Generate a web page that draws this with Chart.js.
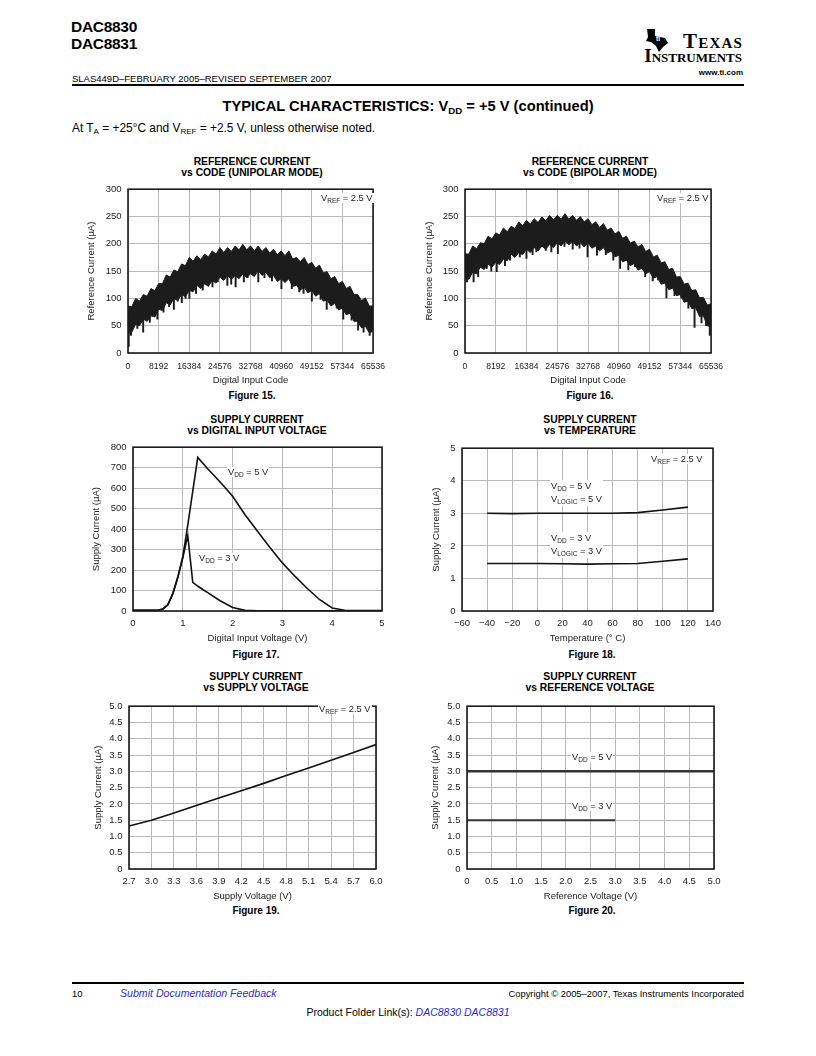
<!DOCTYPE html>
<html><head><meta charset="utf-8">
<script src="https://cdn.jsdelivr.net/npm/chart.js@4.4.0/dist/chart.umd.min.js"></script>
<style>
body{margin:0;width:816px;height:1056px;position:relative;background:#fff;font-family:"Liberation Sans",Arial,sans-serif;color:#000;overflow:hidden}
.a{position:absolute;white-space:nowrap}
canvas{position:absolute;z-index:1}
.ct{position:absolute;white-space:nowrap;text-align:center;font-weight:bold;font-size:10.3px;line-height:10.5px;transform:translateX(-50%)}
.fig{position:absolute;white-space:nowrap;font-weight:bold;font-size:10px;transform:translateX(-50%)}
.an{position:absolute;white-space:nowrap;font-size:9.3px;color:#222;z-index:2;background:#fff;padding:0 1px}
.sub{font-size:6.5px;position:relative;top:2px}
.blue{color:#2b2bd0;font-style:italic}
.ti{position:absolute;white-space:nowrap;font-family:'Liberation Serif',serif;font-weight:bold;font-size:19px;font-variant:small-caps;line-height:20px}
</style></head><body>

<div class="a" style="left:71px;top:18px;font-weight:bold;font-size:15.5px;line-height:17px;letter-spacing:-0.3px">DAC8830<br>DAC8831</div>
<svg class="a" style="left:644px;top:28px" width="26" height="25" viewBox="0 0 26 25"><path d="M3,1 L11,1 L11,8 L21,10 L24,15 L19,19 L15,24 L12,18 L7,14 L2,13 L4,9 Z" fill="#000"/><text x="12" y="13" font-size="7" font-weight="bold" fill="#fff" font-family="Liberation Sans">ti</text></svg>
<div class="ti" style="right:73px;top:31px;font-size:21px;letter-spacing:1.2px">Texas</div>
<div class="ti" style="right:74px;top:46px">Instruments</div>
<div class="a" style="right:73px;top:68px;font-size:8px;font-weight:bold">www.ti.com</div>
<div class="a" style="left:72px;top:73px;font-size:9.5px">SLAS449D–FEBRUARY 2005–REVISED SEPTEMBER 2007</div>
<div class="a" style="left:72px;top:84px;width:672px;height:2px;background:#000"></div>
<div class="a" style="left:408px;top:98px;transform:translateX(-50%);font-weight:bold;font-size:14.7px">TYPICAL CHARACTERISTICS: V<span style="font-size:9.7px;position:relative;top:3px">DD</span> = +5 V (continued)</div>
<div class="a" style="left:72px;top:121px;font-size:11.9px">At T<span style="font-size:8px;position:relative;top:2px">A</span> = +25°C and V<span style="font-size:8px;position:relative;top:2px">REF</span> = +2.5 V, unless otherwise noted.</div>

<div class="ct" style="left:252px;top:157px">REFERENCE CURRENT<br>vs CODE (UNIPOLAR MODE)</div>
<div class="ct" style="left:590px;top:157px">REFERENCE CURRENT<br>vs CODE (BIPOLAR MODE)</div>
<div class="ct" style="left:257px;top:415px">SUPPLY CURRENT<br>vs DIGITAL INPUT VOLTAGE</div>
<div class="ct" style="left:590px;top:415px">SUPPLY CURRENT<br>vs TEMPERATURE</div>
<div class="ct" style="left:256px;top:672px">SUPPLY CURRENT<br>vs SUPPLY VOLTAGE</div>
<div class="ct" style="left:590px;top:672px">SUPPLY CURRENT<br>vs REFERENCE VOLTAGE</div>

<div class="fig" style="left:252px;top:390px">Figure 15.</div>
<div class="fig" style="left:590px;top:390px">Figure 16.</div>
<div class="fig" style="left:256px;top:649px">Figure 17.</div>
<div class="fig" style="left:592px;top:649px">Figure 18.</div>
<div class="fig" style="left:256px;top:905px">Figure 19.</div>
<div class="fig" style="left:592px;top:905px">Figure 20.</div>

<div class="an" style="left:320px;top:193px">V<span class="sub">REF</span> = 2.5 V</div>
<div class="an" style="left:656px;top:193px">V<span class="sub">REF</span> = 2.5 V</div>
<div class="an" style="left:227px;top:467px">V<span class="sub">DD</span> = 5 V</div>
<div class="an" style="left:198px;top:553px">V<span class="sub">DD</span> = 3 V</div>
<div class="an" style="left:650px;top:454px">V<span class="sub">REF</span> = 2.5 V</div>
<div class="an" style="left:550px;top:480px;line-height:12px">V<span class="sub">DD</span> = 5 V<br>V<span class="sub">LOGIC</span> = 5 V</div>
<div class="an" style="left:550px;top:532px;line-height:12px">V<span class="sub">DD</span> = 3 V<br>V<span class="sub">LOGIC</span> = 3 V</div>
<div class="an" style="left:318px;top:704px">V<span class="sub">REF</span> = 2.5 V</div>
<div class="an" style="left:571px;top:752px">V<span class="sub">DD</span> = 5 V</div>
<div class="an" style="left:571px;top:801px">V<span class="sub">DD</span> = 3 V</div>

<div class="a" style="left:72px;top:982px;width:672px;height:2px;background:#000"></div>
<div class="a" style="left:72px;top:988px;font-size:9.5px">10</div>
<div class="a blue" style="left:120px;top:987px;font-size:10.6px">Submit Documentation Feedback</div>
<div class="a" style="right:72px;top:988px;font-size:9.4px">Copyright © 2005–2007, Texas Instruments Incorporated</div>
<div class="a" style="left:408px;top:1006px;transform:translateX(-50%);font-size:10.5px">Product Folder Link(s): <span class="blue">DAC8830 DAC8831</span></div>

<canvas id="c15"></canvas><canvas id="c16"></canvas><canvas id="c17"></canvas>
<canvas id="c18"></canvas><canvas id="c19"></canvas><canvas id="c20"></canvas>

<script>
// ---------- DATA ----------
const CODES = [0,1024,2048,3072,4096,5120,6144,7168,8192,9216,10240,11264,12288,13312,14336,15360,16384,17408,18432,19456,20480,21504,22528,23552,24576,25600,26624,27648,28672,29696,30720,31744,32768,33792,34816,35840,36864,37888,38912,39936,40960,41984,43008,44032,45056,46080,47104,48128,49152,50176,51200,52224,53248,54272,55296,56320,57344,58368,59392,60416,61440,62464,63488,64512,65536];
const CODE_TICKS = [0,8192,16384,24576,32768,40960,49152,57344,65536];

const F15_UPPER = [86,85,100,95,107,104,118,114,127,127,143,139,152,149,163,160,175,168,178,171,181,176,187,181,193,184,193,186,196,189,199,189,196,187,196,186,193,183,190,180,187,178,187,172,175,167,175,162,166,155,161,147,149,136,140,127,131,118,122,107,107,96,101,86,86];
const F15_LOWER = [35,38,53,50,62,58,68,66,80,78,92,88,100,96,107,103,115,112,124,118,127,122,133,128,139,133,142,135,142,136,145,138,145,140,151,142,148,138,142,131,136,129,136,122,124,115,121,110,115,104,109,95,97,86,91,79,82,70,73,58,58,46,49,37,40];
const F15_SPIKE_CODE = [200,794,4060,5830,7860,12270,14390,16420,18190,22600,26570,28780,30980,34845,41033,46956,49166,53144,57564,61542,64636,
                        2500,9500,11000,13300,15400,20000,24000,27600,32000,36500,38500,43800,45800,51500,55800,59800,63000];
const F15_SPIKE_LOW  = [12,32,38,56,62,80,92,100,109,121,124,121,130,130,118,109,95,80,62,42,32,
                        45,75,85,95,100,115,130,126,138,138,132,118,112,98,82,60,38];
const F15_SPIKE_TOP  = [35,45,62,68,80,100,107,115,124,133,142,142,145,151,136,121,115,97,82,58,45,
                        55,90,95,102,110,127,139,138,145,148,142,130,122,108,90,72,50];

const F16_UPPER = [182,181,196,191,202,200,214,209,220,216,229,222,232,228,240,233,243,236,246,239,249,242,252,244,252,245,255,245,252,243,250,240,246,235,240,230,237,225,229,218,223,210,214,201,205,194,199,186,190,176,179,165,167,153,155,139,140,126,128,114,116,101,102,88,90];
const F16_LOWER = [136,135,148,145,157,153,163,157,166,162,172,169,181,175,184,180,190,184,193,187,196,190,199,193,202,196,205,198,205,196,202,194,202,192,196,187,193,183,187,176,179,167,170,160,164,152,155,145,149,137,140,126,128,116,119,105,107,93,95,81,83,67,68,50,48];
const F16_SPIKE_CODE = [530,2290,5810,8450,10650,14610,16370,19010,24730,28690,32650,35150,41314,45280,51450,53650,57614,61140,64220,
                        3500,7000,12000,18000,21500,23000,26500,30500,37500,39500,43500,48000,50000,55800,59500,63000,65200];
const F16_SPIKE_LOW  = [130,130,155,149,160,176,173,185,182,190,176,179,155,158,134,101,101,47,50,
                        140,150,170,180,188,185,195,192,180,170,152,140,132,105,82,55,32];
const F16_SPIKE_TOP  = [140,150,162,167,174,185,190,194,202,205,202,196,178,164,140,126,107,85,62,
                        152,163,181,193,197,199,204,202,190,184,168,152,145,118,95,70,50];

const F17_V5_X = [0,0.5,0.6,0.7,0.8,0.9,1.0,1.1,1.2,1.3,1.5,1.75,2.0,2.25,2.5,2.75,3.0,3.25,3.5,3.75,4.0,4.25,4.5,5.0];
const F17_V5_Y = [3,4,10,30,85,165,265,420,585,750,695,630,560,470,390,310,235,170,110,55,15,4,2,2];
const F17_V3_X = [0,0.5,0.6,0.7,0.8,0.9,1.0,1.1,1.2,1.3,1.4,1.5,1.75,2.0,2.25,2.5,3.0,4.0,5.0];
const F17_V3_Y = [3,4,10,30,85,165,260,368,140,122,105,90,50,17,3,1,1,1,1];

const F18_T  = [-40,-20,0,20,40,60,80,100,120];
const F18_V5 = [3.0,2.99,3.0,3.0,3.0,3.0,3.02,3.1,3.19];
const F18_V3 = [1.46,1.46,1.46,1.45,1.44,1.45,1.46,1.53,1.6];

const F19_TICKS = [2.7,3.0,3.3,3.6,3.9,4.2,4.5,4.8,5.1,5.4,5.7,6.0];
const F19_V = [2.7,3.0,3.3,3.6,3.9,4.2,4.5,4.8,5.1,5.4,5.7,6.0];
const F19_I = [1.32,1.5,1.72,1.95,2.18,2.4,2.63,2.87,3.1,3.34,3.58,3.82];

const F20_V5_X = [0,5.0]; const F20_V5_Y = [3.0,3.0];
const F20_V3_X = [0,3.0]; const F20_V3_Y = [1.5,1.5];

// ---------- HELPERS ----------
Chart.defaults.font.family = "'Liberation Sans', Arial, sans-serif";
Chart.defaults.color = '#222';
const pts = (xs, ys) => xs.map((x,i)=>({x, y: ys[i]}));
const bars = (xs, lo, hi) => xs.map((x,i)=>({x, y:[lo[i], hi[i]]}));
const frame = {id:'frame', afterDraw(c){const a=c.chartArea,x=c.ctx;x.save();x.strokeStyle='#1a1a1a';x.lineWidth=1.6;x.strokeRect(a.left,a.top,a.right-a.left,a.bottom-a.top);x.restore();}};
const GRID = '#b9b9b9';

function make(id, rect, pad, datasets, xo, yo){
  const cv = document.getElementById(id);
  const w = rect.R-rect.L+pad.l+pad.r, h = rect.B-rect.T+pad.t+pad.b;
  cv.width = w; cv.height = h;
  cv.style.left = (rect.L-pad.l)+'px'; cv.style.top = (rect.T-pad.t)+'px';
  cv.style.width = w+'px'; cv.style.height = h+'px';
  const xs = Object.assign({type:'linear', offset:false,
      afterFit:s=>{s.height=pad.b;},
      grid:{color:GRID, drawTicks:false, offset:false}, border:{display:false},
      title:{display:true, text:xo.title, font:{size:9.5}, color:'#222', padding:0}}, xo.s);
  xs.ticks = Object.assign({padding:xo.pad||6.5, font:{size:xo.fs||9.5}, maxRotation:0, autoSkip:false, color:'#222'}, xo.ticks||{});
  const ys = Object.assign({type:'linear',
      afterFit:s=>{s.width=pad.l;},
      grid:{color:GRID, drawTicks:false}, border:{display:false},
      title:{display:true, text:yo.title, font:{size:9.5}, color:'#222', padding:0}}, yo.s);
  ys.ticks = Object.assign({padding:6.5, font:{size:9.5}, color:'#222'}, yo.ticks||{});
  new Chart(cv, {type:'line', data:{datasets}, plugins:[frame],
    options:{responsive:false, animation:false, devicePixelRatio:1,
      layout:{padding:{left:0,top:pad.t,right:pad.r,bottom:0}, autoPadding:false},
      plugins:{legend:{display:false}, tooltip:{enabled:false}},
      elements:{point:{radius:0}, line:{tension:0}},
      scales:{x:xs, y:ys}}});
}
const lineDs = (data, extra) => Object.assign({data, borderColor:'#111', borderWidth:1.6, pointRadius:0, fill:false}, extra||{});
const BAND = '#1c1c1c';
function bandSets(up, lo, sc, sl, st){
  return [
    lineDs(pts(CODES, up), {borderWidth:1, borderColor:BAND, fill:'+1', backgroundColor:BAND}),
    lineDs(pts(CODES, lo), {borderWidth:1, borderColor:BAND}),
    {type:'bar', data:bars(sc, sl, st), backgroundColor:BAND, barThickness:1.3, grouped:false}
  ];
}
const codeX = {title:'Digital Input Code', fs:8.6, pad:8,
  s:{min:0,max:65536, afterBuildTicks:s=>{s.ticks=CODE_TICKS.map(v=>({value:v}));}},
  ticks:{callback:v=>String(v)}};
const refY = {title:'Reference Current (µA)', s:{min:0,max:300}, ticks:{stepSize:50}};

make('c15', {L:128,T:185,R:375,B:353}, {l:42,t:8,r:18,b:33},
  bandSets(F15_UPPER,F15_LOWER,F15_SPIKE_CODE,F15_SPIKE_LOW,F15_SPIKE_TOP), codeX, refY);
make('c16', {L:465,T:185,R:713,B:353}, {l:41,t:8,r:18,b:33},
  bandSets(F16_UPPER,F16_LOWER,F16_SPIKE_CODE,F16_SPIKE_LOW,F16_SPIKE_TOP), codeX, refY);

make('c17', {L:133,T:443,R:382,B:611}, {l:42,t:8,r:16,b:33},
  [lineDs(pts(F17_V5_X,F17_V5_Y)), lineDs(pts(F17_V3_X,F17_V3_Y))],
  {title:'Digital Input Voltage (V)', s:{min:0,max:5}, ticks:{stepSize:1}},
  {title:'Supply Current (µA)', s:{min:0,max:800}, ticks:{stepSize:100}});

make('c18', {L:462,T:444,R:713,B:611}, {l:31,t:8,r:16,b:33},
  [lineDs(pts(F18_T,F18_V5)), lineDs(pts(F18_T,F18_V3))],
  {title:'Temperature (° C)', s:{min:-60,max:140}, ticks:{stepSize:20, callback:v=>String(v).replace('-','\u2212')}},
  {title:'Supply Current (µA)', s:{min:0,max:5}, ticks:{stepSize:1}});

const fmt1 = v => v===0 ? '0' : Number(v).toFixed(1);
make('c19', {L:129,T:702,R:376,B:869}, {l:36,t:8,r:16,b:33},
  [lineDs(pts(F19_V,F19_I))],
  {title:'Supply Voltage (V)', s:{min:2.7,max:6.0, afterBuildTicks:s=>{s.ticks=F19_TICKS.map(v=>({value:v}));}}, ticks:{callback:fmt1}},
  {title:'Supply Current (µA)', s:{min:0,max:5}, ticks:{stepSize:0.5, callback:fmt1}});

make('c20', {L:467,T:702,R:714,B:869}, {l:37,t:8,r:16,b:33},
  [lineDs(pts(F20_V5_X,F20_V5_Y), {borderWidth:2.4, borderColor:'#333'}), lineDs(pts(F20_V3_X,F20_V3_Y), {borderWidth:2, borderColor:'#333'})],
  {title:'Reference Voltage (V)', s:{min:0,max:5}, ticks:{stepSize:0.5, callback:fmt1}},
  {title:'Supply Current (µA)', s:{min:0,max:5}, ticks:{stepSize:0.5, callback:fmt1}});
</script>
</body></html>
